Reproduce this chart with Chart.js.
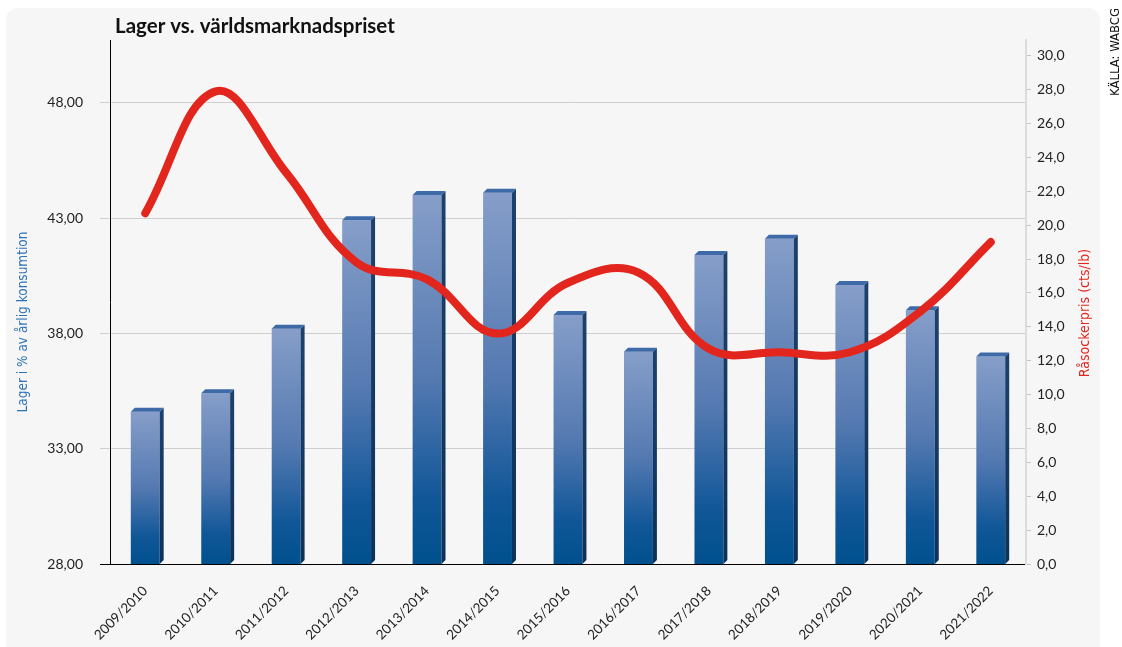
<!DOCTYPE html>
<html>
<head>
<meta charset="utf-8">
<script src="https://cdn.jsdelivr.net/npm/chart.js@4.4.1/dist/chart.umd.min.js"></script>
<style>
  html, body { margin: 0; padding: 0; background: #fff; }
  #chart { display: block; }
</style>
</head>
<body>
<canvas id="chart" width="1122" height="647"></canvas>
<script>
// ---- Data ----
const categories = ['2009/2010', '2010/2011', '2011/2012', '2012/2013', '2013/2014', '2014/2015',
    '2015/2016', '2016/2017', '2017/2018', '2018/2019', '2019/2020', '2020/2021', '2021/2022'];
const lager = [34.6, 35.4, 38.2, 42.9, 44.0, 44.1, 38.8, 37.2, 41.4, 42.1, 40.1, 39.0, 37.0];
const rasockerpris = [20.7, 27.9, 23.1, 17.8, 16.8, 13.6, 16.6, 17.2, 12.7, 12.5, 12.5, 14.9, 19.0];
const lagerTicks = [28, 33, 38, 43, 48];
const prisTicks = [0, 2, 4, 6, 8, 10, 12, 14, 16, 18, 20, 22, 24, 26, 28, 30];

const NARROW = '"Liberation Sans Narrow", "DejaVu Sans Condensed", sans-serif';
const TICK_FONT = 'Lato, "Open Sans", sans-serif';

// gradient per bar, from its top down to the baseline
function barGradient(context) {
    const chart = context.chart;
    const area = chart.chartArea;
    if (!area || context.type !== 'data') return '#4a73ad';
    const top = chart.scales.y.getPixelForValue(context.raw);
    const g = chart.ctx.createLinearGradient(0, top, 0, area.bottom);
    g.addColorStop(0, '#869ec9');
    g.addColorStop(0.5, '#5479b1');
    g.addColorStop(0.82, '#115798');
    g.addColorStop(1, '#00508e');
    return g;
}

// ---- Decorations: panel, 3D bar faces, titles ----
const decor = {
    id: 'decor',
    beforeDraw(chart) {
        const ctx = chart.ctx;
        ctx.save();
        ctx.fillStyle = '#ffffff';
        ctx.fillRect(0, 0, chart.width, chart.height);
        ctx.fillStyle = '#f6f6f6';
        ctx.beginPath();
        ctx.roundRect(6, 8, 1094, 660, 12);
        ctx.fill();
        ctx.restore();
    },
    afterDatasetDraw(chart, args) {
        if (args.index !== 0) return;
        const ctx = chart.ctx;
        const bottom = chart.chartArea.bottom;
        const d = 4;
        ctx.save();
        args.meta.data.forEach(bar => {
            const { x, y, width } = bar.getProps(['x', 'y', 'width'], true);
            const l = x - width / 2, r = x + width / 2;
            // right side
            const sg = ctx.createLinearGradient(0, y, 0, bottom);
            sg.addColorStop(0, '#1c416d');
            sg.addColorStop(1, '#0d3158');
            ctx.fillStyle = sg;
            ctx.beginPath();
            ctx.moveTo(r, y);
            ctx.lineTo(r + d, y - d);
            ctx.lineTo(r + d, bottom - d);
            ctx.lineTo(r, bottom);
            ctx.closePath();
            ctx.fill();
            // top
            ctx.fillStyle = '#3e6ba8';
            ctx.beginPath();
            ctx.moveTo(l, y);
            ctx.lineTo(l + d, y - d);
            ctx.lineTo(r + d, y - d);
            ctx.lineTo(r, y);
            ctx.closePath();
            ctx.fill();
        });
        ctx.restore();
    },
    afterDraw(chart) {
        const ctx = chart.ctx;
        const area = chart.chartArea;
        ctx.save();
        // main title
        ctx.fillStyle = '#111';
        ctx.font = 'bold 20.5px Lato, "Open Sans", sans-serif';
        ctx.textAlign = 'left';
        ctx.textBaseline = 'alphabetic';
        ctx.fillText('Lager vs. världsmarknadspriset', area.left + 5, 33);

        // left axis title
        ctx.font = '13.5px ' + NARROW;
        ctx.textAlign = 'center';
        ctx.textBaseline = 'middle';
        ctx.save();
        ctx.translate(23, 322);
        ctx.rotate(-Math.PI / 2);
        ctx.fillStyle = '#2f73b6';
        ctx.fillText('Lager i % av årlig konsumtion', 0, 0);
        ctx.restore();

        // right axis title
        ctx.save();
        ctx.font = '14px ' + NARROW;
        ctx.translate(1085, 313);
        ctx.rotate(-Math.PI / 2);
        ctx.fillStyle = '#e3261d';
        ctx.fillText('Råsockerpris (cts/lb)', 0, 0);
        ctx.restore();

        // source
        ctx.save();
        ctx.translate(1116, 52);
        ctx.rotate(-Math.PI / 2);
        ctx.fillStyle = '#111';
        ctx.font = '13px ' + NARROW;
        ctx.fillText('KÄLLA: WABCG', 0, 0);
        ctx.restore();
        ctx.restore();
    }
};

new Chart(document.getElementById('chart'), {
    data: {
        labels: categories,
        datasets: [{
            type: 'bar',
            data: lager,
            yAxisID: 'y',
            backgroundColor: barGradient,
            borderWidth: 0,
            barPercentage: 0.41,
            categoryPercentage: 1,
            order: 1
        }, {
            type: 'line',
            data: rasockerpris,
            yAxisID: 'y1',
            borderColor: '#e3261d',
            borderWidth: 8,
            borderCapStyle: 'round',
            borderJoinStyle: 'round',
            tension: 0.4,
            pointRadius: 0,
            fill: false,
            order: 0
        }]
    },
    options: {
        responsive: false,
        animation: false,
        layout: { padding: { top: 40, left: 0, right: 0, bottom: 0 } },
        plugins: {
            legend: { display: false },
            tooltip: { enabled: false }
        },
        scales: {
            x: {
                offset: true,
                grid: { display: false, drawTicks: false },
                border: { display: true, color: '#000', width: 1 },
                ticks: {
                    minRotation: 45,
                    maxRotation: 45,
                    padding: 19,
                    color: '#222',
                    font: { family: TICK_FONT, size: 13.5 }
                },
                afterFit: s => { s.height = 83; }
            },
            y: {
                position: 'left',
                min: 28,
                max: 50.72,
                afterBuildTicks: s => { s.ticks = lagerTicks.map(v => ({ value: v })); },
                grid: {
                    color: c => (c.tick && c.tick.value === 28 ? '#000' : '#cfcfcf'),
                    tickLength: 10,
                    lineWidth: 1
                },
                border: { display: true, color: '#000', width: 1 },
                ticks: {
                    padding: 17,
                    color: '#222',
                    font: { family: TICK_FONT, size: 14 },
                    callback: v => v.toFixed(2).replace('.', ',')
                },
                afterFit: s => { s.width = 110; }
            },
            y1: {
                position: 'right',
                min: 0,
                max: 30.93,
                afterBuildTicks: s => { s.ticks = prisTicks.map(v => ({ value: v })); },
                grid: {
                    drawOnChartArea: false,
                    color: '#c4c4c4',
                    tickLength: 5
                },
                border: { display: true, color: '#dcdcdc', width: 2 },
                ticks: {
                    padding: 6,
                    color: '#222',
                    font: { family: TICK_FONT, size: 14 },
                    callback: v => v.toFixed(1).replace('.', ',')
                },
                afterFit: s => { s.width = 96; }
            }
        }
    },
    plugins: [decor]
});
</script>
</body>
</html>
